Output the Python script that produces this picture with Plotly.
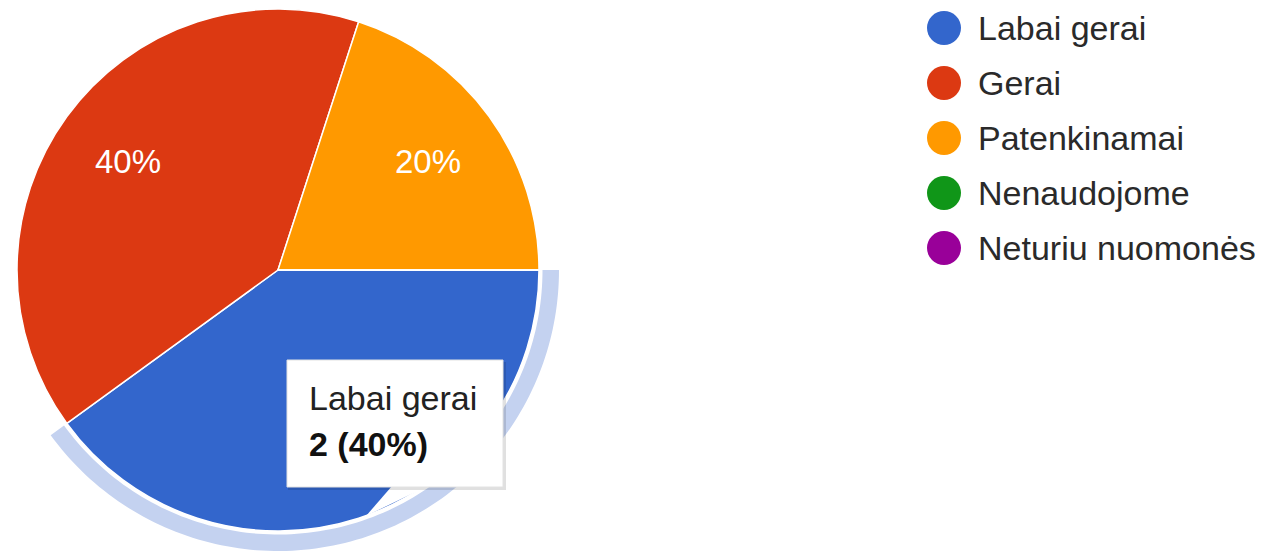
import numpy as np
import plotly.graph_objects as go

categories = ["Labai gerai", "Gerai", "Patenkinamai", "Nenaudojome", "Neturiu nuomonės"]
counts = [2, 2, 1, 0, 0]
colors = ["#3366cc", "#dc3912", "#ff9900", "#109618", "#990099"]
highlight_index = 0

OFF = 8  # default page body margin
W, H = 1267 - OFF, 554 - OFF
FONT = "Arial, Liberation Sans, sans-serif"
# pie geometry in window pixels
cx, cy, r = 278, 270, 261
rotation = 90

fig = go.Figure()

fig.add_trace(go.Pie(
    labels=categories, values=counts, sort=False, direction="clockwise",
    rotation=rotation, marker=dict(colors=colors, line=dict(color="white", width=1.5)),
    textinfo="none", hoverinfo="skip", showlegend=False,
    domain=dict(x=[(cx - r - OFF) / W, (cx + r - OFF) / W],
                y=[1 - (cy + r - OFF) / H, 1 - (cy - r - OFF) / H]),
))

# slice angles (clockwise from 12 o'clock)
vals = np.array(counts, dtype=float)
frac = vals / vals.sum()
starts = rotation + 360 * np.concatenate([[0], np.cumsum(frac)[:-1]])
ends = starts + 360 * frac


def pt(theta_deg, rad):
    t = np.radians(theta_deg)
    return cx + rad * np.sin(t), cy - rad * np.cos(t)


annotations = []
shapes = []

# percentage labels inside slices (except the hovered one, covered by tooltip)
for i, f in enumerate(frac):
    if f <= 0 or i == highlight_index:
        continue
    mid = (starts[i] + ends[i]) / 2
    x, y = pt(mid, 0.71 * r)
    annotations.append(dict(x=x, y=y, xref="x", yref="y", text=f"{round(f*100)}%",
                            showarrow=False, font=dict(family=FONT, size=33, color="white"),
                            xanchor="center", yanchor="middle"))

# tooltip tail
shapes.append(dict(type="path", xref="x", yref="y", path="M 392 486 L 428 486 L 366 516 Z",
                   fillcolor="white", line=dict(width=0), layer="above"))

# hover halo ring for highlighted slice
ri, ro = 264.5, 281
th = np.linspace(starts[highlight_index], ends[highlight_index], 120)
outer = [pt(t, ro) for t in th]
inner = [pt(t, ri) for t in th[::-1]]
pts = outer + inner
path = "M " + " L ".join(f"{x:.2f} {y:.2f}" for x, y in pts) + " Z"
shapes.append(dict(type="path", xref="x", yref="y", path=path,
                   fillcolor="#c4d2f0", line=dict(width=0), layer="above"))

# tooltip box with shadow
bx0, by0, bx1, by1 = 287, 360, 503, 487
shapes.append(dict(type="rect", xref="x", yref="y", x0=bx0 + 1, y0=by0 + 2, x1=bx1 + 3, y1=by1 + 3,
                   fillcolor="rgba(0,0,0,0.12)", line=dict(width=0), layer="above"))
shapes.append(dict(type="rect", xref="x", yref="y", x0=bx0, y0=by0, x1=bx1, y1=by1,
                   fillcolor="white", line=dict(color="#e2e2e2", width=1), layer="above"))

hv = counts[highlight_index]
annotations.append(dict(x=bx0 + 20, y=398, xref="x", yref="y", text=categories[highlight_index],
                        showarrow=False, xanchor="left", yanchor="middle",
                        font=dict(family=FONT, size=34, color="#222222")))
annotations.append(dict(x=bx0 + 20, y=444, xref="x", yref="y",
                        text=f"<b>{hv} ({round(frac[highlight_index]*100)}%)</b>",
                        showarrow=False, xanchor="left", yanchor="middle",
                        font=dict(family=FONT, size=34, color="#111111")))

# custom legend
leg_x, leg_y0, leg_dy = 944, 28, 55
leg_y = [leg_y0 + i * leg_dy for i in range(len(categories))]
fig.add_trace(go.Scatter(x=[leg_x] * len(categories), y=leg_y, mode="markers",
                         marker=dict(size=34, color=colors, line=dict(width=0)),
                         hoverinfo="skip", showlegend=False))
for name, y in zip(categories, leg_y):
    annotations.append(dict(x=976, y=y, xref="x", yref="y", text=name, showarrow=False,
                            xanchor="left", yanchor="middle",
                            font=dict(family=FONT, size=34, color="#2a2a2a")))

fig.update_layout(
    width=W, height=H, margin=dict(l=0, r=0, t=0, b=0),
    paper_bgcolor="white", plot_bgcolor="rgba(0,0,0,0)",
    xaxis=dict(range=[OFF, OFF + W], visible=False, domain=[0, 1], fixedrange=True),
    yaxis=dict(range=[OFF + H, OFF], visible=False, domain=[0, 1], fixedrange=True),
    shapes=shapes, annotations=annotations, showlegend=False,
)

fig.write_html("out.html", config={"displayModeBar": False})
